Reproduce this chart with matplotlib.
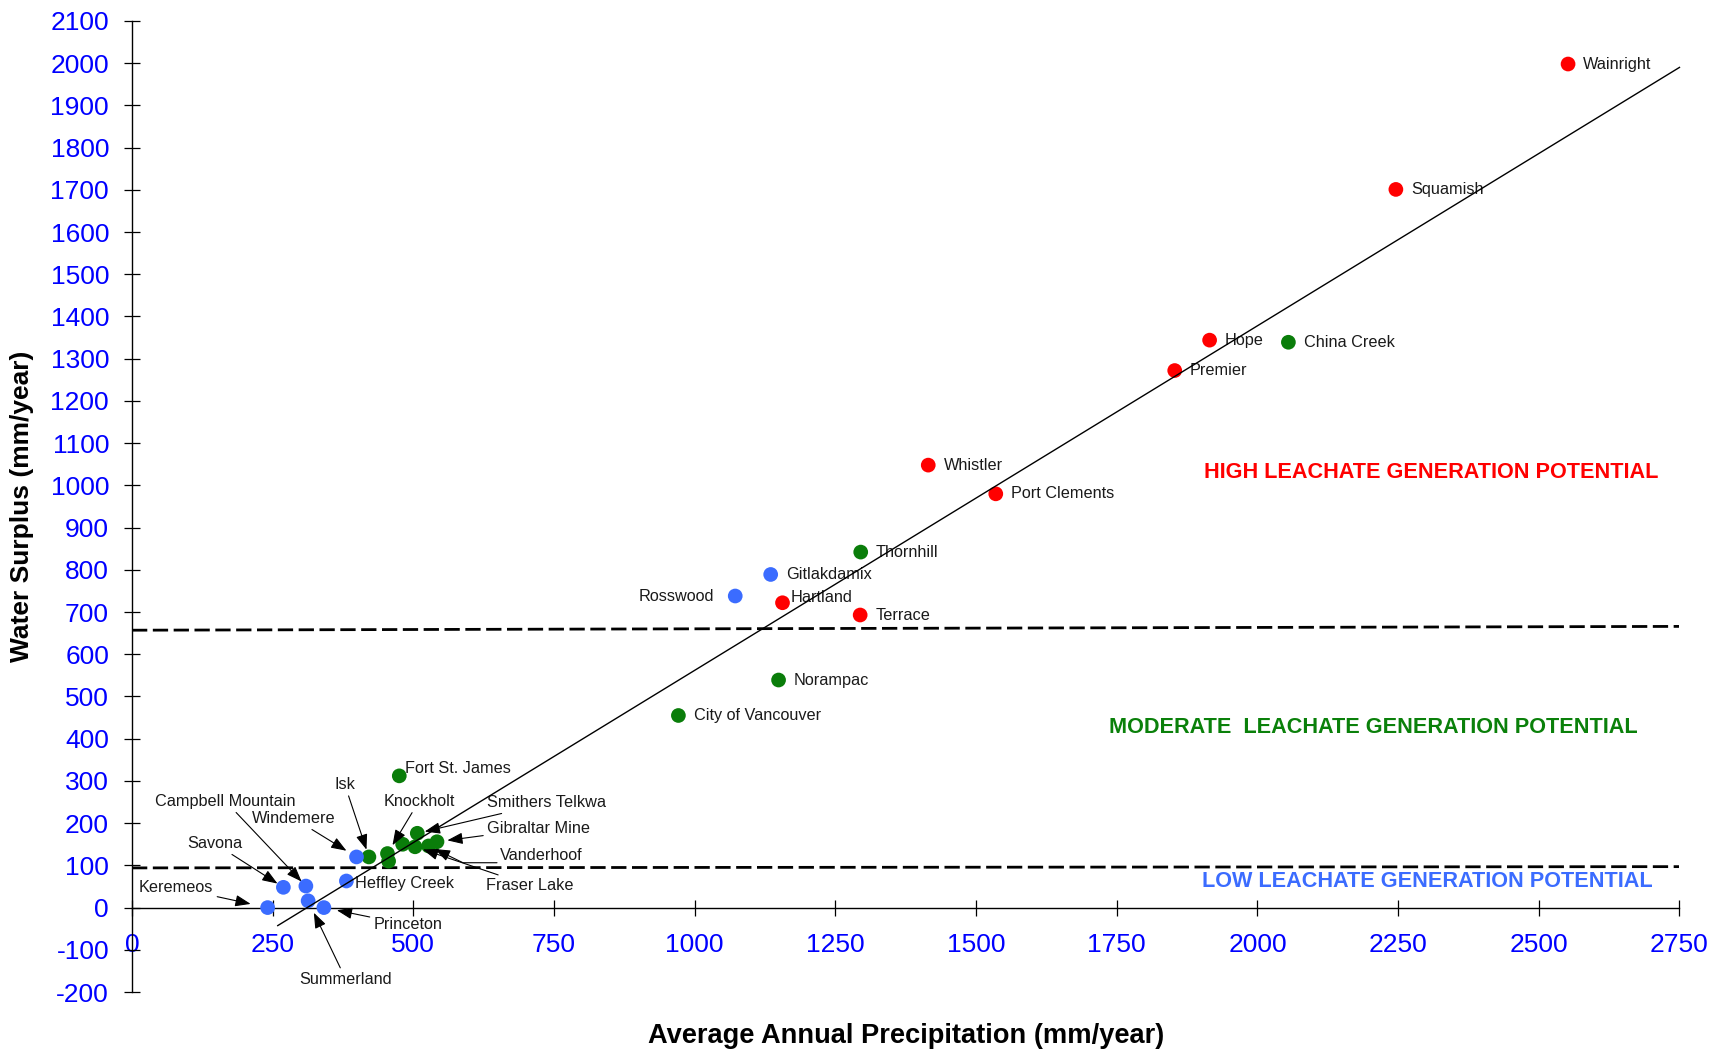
import matplotlib
matplotlib.use("Agg")
import matplotlib.pyplot as plt
import numpy as np

plt.rcParams['font.family'] = ['Liberation Sans', 'DejaVu Sans']
plt.rcParams['axes.unicode_minus'] = False

# ---------------- data ----------------
high_names = ['Wainright', 'Squamish', 'Hope', 'Premier', 'Whistler',
              'Port Clements', 'Hartland', 'Terrace']
high_precip = [2552, 2246, 1915, 1853, 1415, 1535, 1156, 1294]
high_surplus = [1998, 1701, 1344, 1272, 1048, 980, 722, 693]

mod_names = ['China Creek', 'Thornhill', 'Norampac', 'City of Vancouver',
             'Fort St. James', 'Isk', 'Knockholt', '', '',
             'Smithers Telkwa', 'Fraser Lake', 'Vanderhoof', 'Gibraltar Mine']
mod_precip = [2055, 1295, 1149, 971, 475, 421, 454, 456, 481, 507, 503, 527, 542]
mod_surplus = [1339, 842, 539, 455, 312, 120, 128, 110, 150, 176, 144, 146, 156]

low_names = ['Gitlakdamix', 'Rosswood', 'Windemere', 'Heffley Creek',
             'Campbell Mountain', 'Savona', 'Summerland', 'Keremeos', 'Princeton']
low_precip = [1135, 1072, 399, 381, 309, 269, 313, 241, 341]
low_surplus = [789, 738, 120, 63, 51, 48, 16, 0, 0]

# trend line
trend_slope = 0.816
trend_intercept = -254
trend_x = [259, 2750]

# class boundaries (dashed)
boundary_x = [0, 2750]
low_boundary = [94, 97]
high_boundary = [657, 666]

x_ticks = list(range(0, 2751, 250))
y_ticks = list(range(-200, 2101, 100))

# ---------------- styling / layout ----------------
RED = '#ff0000'
GREEN = '#0a7d0a'
BLUE = '#3b6cff'
LABEL_FS = 11.7
TXT = '#1a1a1a'

# labels placed beside their point: offset in points
side_offsets = {
    'Wainright': (11, 0), 'Squamish': (11, 0), 'Hope': (11, 0),
    'Premier': (11, 0), 'Whistler': (11, 0), 'Port Clements': (11, 0),
    'Hartland': (6, 4), 'Terrace': (11, 0), 'China Creek': (11, 0),
    'Thornhill': (11, 0), 'Norampac': (11, 0), 'City of Vancouver': (11, 0),
    'Fort St. James': (4, 5), 'Gitlakdamix': (11, 0),
    'Rosswood': (-15, 0), 'Heffley Creek': (6, -2),
}
# labels joined by an arrow: text centre (data units) and gap to marker (pt)
arrow_labels = {
    'Isk': ((378, 292), 5.5),
    'Knockholt': ((510, 252), 7),
    'Campbell Mountain': ((166, 252), 4.5),
    'Windemere': ((288, 211), 8.5),
    'Savona': ((147, 152), 5),
    'Keremeos': ((78, 47), 12.5),
    'Smithers Telkwa': ((737, 248), 5.5),
    'Gibraltar Mine': ((723, 188), 7.5),
    'Fraser Lake': ((707, 52), 6),
    'Princeton': ((491, -41), 9.5),
    'Summerland': ((380, -170), 9.5),
}

fig = plt.figure(figsize=(17.3, 10.53), dpi=100)
ax = fig.add_axes([0.0763, 0.0579, 0.8945, 0.9222])
ax.set_xlim(0, 2750)
ax.set_ylim(-200, 2100)

for names, xs, ys, col in [(high_names, high_precip, high_surplus, RED),
                           (mod_names, mod_precip, mod_surplus, GREEN),
                           (low_names, low_precip, low_surplus, BLUE)]:
    ax.scatter(xs, ys, s=112, color=col, edgecolors='none', zorder=3, clip_on=False)

# trend line
tx = np.array(trend_x, dtype=float)
ax.plot(tx, trend_slope * tx + trend_intercept, color='black', lw=1.0, zorder=6,
        clip_on=False)

# boundaries
for yb in (low_boundary, high_boundary):
    ax.plot(boundary_x, yb, color='black', lw=2.0, dashes=(5.5, 2.0), zorder=2)

arrowstyle = '-|>,head_length=0.8,head_width=0.3'
for names, xs, ys in [(high_names, high_precip, high_surplus),
                      (mod_names, mod_precip, mod_surplus),
                      (low_names, low_precip, low_surplus)]:
    for n, x, y in zip(names, xs, ys):
        if not n:
            continue
        if n in side_offsets:
            dx, dy = side_offsets[n]
            ax.annotate(n, (x, y), xytext=(dx, dy), textcoords='offset points',
                        ha='left' if dx > 0 else 'right', va='center',
                        fontsize=LABEL_FS, color=TXT, zorder=4)
        elif n in arrow_labels:
            (tx_, ty_), gap = arrow_labels[n]
            ax.annotate(n, (x, y), xytext=(tx_, ty_), textcoords='data',
                        ha='center', va='center', fontsize=LABEL_FS, color=TXT,
                        zorder=4, annotation_clip=False,
                        arrowprops=dict(arrowstyle=arrowstyle, color='black',
                                        lw=0.8, shrinkA=1, shrinkB=gap))
        elif n == 'Vanderhoof':
            ax.annotate(n, (x, y), xytext=(727, 124), textcoords='data',
                        ha='center', va='center', fontsize=LABEL_FS, color=TXT,
                        zorder=4, annotation_clip=False,
                        arrowprops=dict(arrowstyle=arrowstyle, color='black',
                                        lw=0.8, shrinkA=0, shrinkB=5,
                                        relpos=(0.08, 0.0),
                                        connectionstyle='angle,angleA=0,angleB=-26,rad=0'))

# region captions
ax.text(1905, 1031, 'HIGH LEACHATE GENERATION POTENTIAL', color=RED,
        fontsize=15.6, fontweight='bold', ha='left', va='center')
ax.text(1737, 427, 'MODERATE  LEACHATE GENERATION POTENTIAL', color='#0a800a',
        fontsize=15.6, fontweight='bold', ha='left', va='center')
ax.text(1902, 61, 'LOW LEACHATE GENERATION POTENTIAL', color=BLUE,
        fontsize=15.6, fontweight='bold', ha='left', va='center')

# axes
for s in ('top', 'right'):
    ax.spines[s].set_visible(False)
ax.spines['left'].set_position(('data', 0))
ax.spines['bottom'].set_position(('data', 0))
for s in ('left', 'bottom'):
    ax.spines[s].set_linewidth(1.0)
ax.set_xticks(x_ticks)
ax.set_yticks(y_ticks)
ax.set_xticklabels([str(v) for v in x_ticks])
ax.set_yticklabels([str(v) for v in y_ticks])
ax.tick_params(axis='both', direction='inout', length=12, width=0.9,
               color='black', labelcolor='#0000ff', labelsize=19)
ax.tick_params(axis='y', pad=10.5)
ax.tick_params(axis='x', pad=12.5)

ax.set_xlabel('Average Annual Precipitation (mm/year)', fontsize=19.6, fontweight='bold')
ax.set_ylabel('Water Surplus (mm/year)', fontsize=19, fontweight='bold')
ax.xaxis.set_label_coords(0.5, -0.0453)
ax.xaxis.label.set_va('center')
ax.yaxis.set_label_coords(-0.0711, 0.5)
ax.yaxis.label.set_va('center')

fig.savefig('out.png', dpi=100)
